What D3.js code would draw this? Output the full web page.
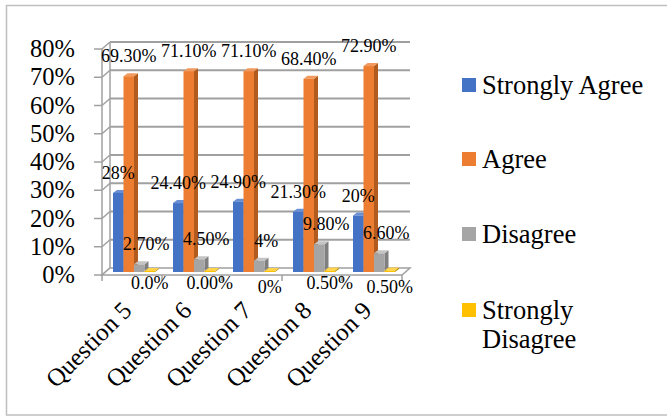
<!DOCTYPE html>
<html>
<head>
<meta charset="utf-8">
<script src="https://cdn.jsdelivr.net/npm/d3@7"></script>
<style>
  body { margin: 0; background: #fff; }
</style>
</head>
<body>
<div id="chart"></div>
<script>
// chart values
const questions = ["Question 5", "Question 6", "Question 7", "Question 8", "Question 9"];
const seriesNames = ["Strongly Agree", "Agree", "Disagree", "Strongly Disagree"];
const stronglyAgree = [0.28, 0.244, 0.249, 0.213, 0.20];
const agree = [0.693, 0.711, 0.711, 0.684, 0.729];
const disagree = [0.027, 0.045, 0.04, 0.098, 0.066];
const stronglyDisagree = [0.0, 0.0, 0.0, 0.005, 0.005];
const labelText = [
  ["28%", "24.40%", "24.90%", "21.30%", "20%"],
  ["69.30%", "71.10%", "71.10%", "68.40%", "72.90%"],
  ["2.70%", "4.50%", "4%", "9.80%", "6.60%"],
  ["0.0%", "0.00%", "0%", "0.50%", "0.50%"]
];
const yTicks = [0, 0.1, 0.2, 0.3, 0.4, 0.5, 0.6, 0.7, 0.8];

const colors = ["#4472C4", "#ED7D31", "#A5A5A5", "#FFC000"];
const sideColors = ["#2f5597", "#b25b1f", "#7f7f7f", "#bf9000"];
const topColors = ["#6a8fd4", "#f29a5e", "#c4c4c4", "#ffd34d"];

const FONT = "'Liberation Serif', 'Times New Roman', serif";
const W = 667, H = 416;
const plot = {left: 102, right: 402, top: 49, bottom: 275};
const depth = {dx: 8, dy: -7};       // back wall offset
const barShift = {dx: 2, dy: -3};    // bars sit a little inside the floor
const barDepth = {dx: 4, dy: -3};

const allSeries = [stronglyAgree, agree, disagree, stronglyDisagree];

let svg = d3.select("#chart").append("svg")
    .attr("width", W)
    .attr("height", H)
    .attr("font-family", FONT);

// outer frame
svg.append("rect")
    .attr("x", 6.5).attr("y", 5.5)
    .attr("width", 662).attr("height", 409.5)
    .attr("fill", "none")
    .attr("stroke", "#bfbfbf")
    .attr("stroke-width", 1.5);

let y = d3.scaleLinear().domain([0, 0.8]).range([plot.bottom, plot.top]);

let x0 = d3.scaleBand()
    .domain(questions)
    .range([plot.left, plot.right])
    .paddingInner(0.3)
    .paddingOuter(0.15);

let x1 = d3.scaleBand()
    .domain(seriesNames)
    .range([0, x0.bandwidth()]);

const gridColor = "#a0a0a0";

// back wall gridlines + left wall diagonals
let grid = svg.append("g");
yTicks.forEach(function(t) {
  let yy = y(t);
  if (t > 0) {
    grid.append("line")
      .attr("x1", plot.left + depth.dx).attr("y1", yy + depth.dy)
      .attr("x2", plot.right + depth.dx).attr("y2", yy + depth.dy)
      .attr("stroke", gridColor).attr("stroke-width", 2);
  }
  grid.append("line")
    .attr("x1", plot.left).attr("y1", yy)
    .attr("x2", plot.left + depth.dx).attr("y2", yy + depth.dy)
    .attr("stroke", gridColor).attr("stroke-width", 1.5);
  // tick mark
  grid.append("line")
    .attr("x1", plot.left - 8).attr("y1", yy)
    .attr("x2", plot.left).attr("y2", yy)
    .attr("stroke", gridColor).attr("stroke-width", 1.5);
});

// left axis lines
grid.append("line")
  .attr("x1", plot.left).attr("y1", y(0.8))
  .attr("x2", plot.left).attr("y2", y(0))
  .attr("stroke", gridColor).attr("stroke-width", 1.5);
grid.append("line")
  .attr("x1", plot.left + depth.dx).attr("y1", y(0.8) + depth.dy)
  .attr("x2", plot.left + depth.dx).attr("y2", y(0) + depth.dy)
  .attr("stroke", gridColor).attr("stroke-width", 1.5);

// floor
grid.append("path")
  .attr("d", `M${plot.left},${y(0)} L${plot.right},${y(0)} L${plot.right + depth.dx},${y(0) + depth.dy} L${plot.left + depth.dx},${y(0) + depth.dy} Z`)
  .attr("fill", "#fff")
  .attr("stroke", gridColor).attr("stroke-width", 1.5);

// category ticks on the floor front edge
questions.concat(["end"]).forEach(function(q, i) {
  let xx = plot.left + i * x0.step();
  grid.append("line")
    .attr("x1", xx).attr("y1", y(0))
    .attr("x2", xx).attr("y2", y(0) + 6)
    .attr("stroke", gridColor).attr("stroke-width", 1.5);
});

// y tick labels
svg.append("g").selectAll("text")
  .data(yTicks)
  .join("text")
  .attr("x", 75)
  .attr("y", function(d) { return y(d) + 8; })
  .attr("text-anchor", "end")
  .attr("font-size", 24.5)
  .text(function(d) { return d3.format(".0%")(d); });

// bars (3D boxes)
let bars = svg.append("g");
questions.forEach(function(q, qi) {
  seriesNames.forEach(function(s, si) {
    let v = allSeries[si][qi];
    let bx = x0(q) + x1(s) + barShift.dx;
    let bw = x1.bandwidth();
    let base = y(0) + barShift.dy;
    let top = y(v) + barShift.dy;
    let h = Math.max(base - top, 1);
    top = base - h;
    let g = bars.append("g");
    // side face
    g.append("path")
      .attr("d", `M${bx + bw},${top} L${bx + bw + barDepth.dx},${top + barDepth.dy} L${bx + bw + barDepth.dx},${base + barDepth.dy} L${bx + bw},${base} Z`)
      .attr("fill", sideColors[si]);
    // top face
    g.append("path")
      .attr("d", `M${bx},${top} L${bx + barDepth.dx},${top + barDepth.dy} L${bx + bw + barDepth.dx},${top + barDepth.dy} L${bx + bw},${top} Z`)
      .attr("fill", topColors[si]);
    // front face
    g.append("rect")
      .attr("x", bx).attr("y", top)
      .attr("width", bw).attr("height", h)
      .attr("fill", colors[si]);
  });
});

// data labels
const labelDx = [0, 0, 7, 0];
let labels = svg.append("g");
questions.forEach(function(q, qi) {
  seriesNames.forEach(function(s, si) {
    let v = allSeries[si][qi];
    let cx = x0(q) + x1(s) + x1.bandwidth() / 2 + barShift.dx + labelDx[si];
    let ly = si === 3 ? y(0) + 14 + (qi === 2 || qi === 4 ? 4 : 0) : y(v) + barShift.dy - 14;
    labels.append("text")
      .attr("x", cx)
      .attr("y", ly)
      .attr("text-anchor", "middle")
      .attr("font-size", 18)
      .text(labelText[si][qi]);
  });
});

// category labels
svg.append("g").selectAll("text")
  .data(questions)
  .join("text")
  .attr("transform", function(d) {
    return `translate(${x0(d) + x0.bandwidth() / 2 + 1}, ${y(0) + 37}) rotate(-45)`;
  })
  .attr("text-anchor", "end")
  .attr("font-size", 25)
  .text(function(d) { return d; });

// legend
const legendY = [85, 159, 234, 310];
let legend = svg.append("g");
seriesNames.forEach(function(s, i) {
  legend.append("rect")
    .attr("x", 462).attr("y", legendY[i] - 7)
    .attr("width", 14).attr("height", 14)
    .attr("fill", colors[i]);
  let t = legend.append("text")
    .attr("x", 482)
    .attr("y", legendY[i] + 9)
    .attr("font-size", 26.5);
  if (s === "Strongly Disagree") {
    t.append("tspan").attr("x", 482).text("Strongly");
    t.append("tspan").attr("x", 482).attr("dy", 29).text("Disagree");
  } else {
    t.text(s);
  }
});
</script>
</body>
</html>
